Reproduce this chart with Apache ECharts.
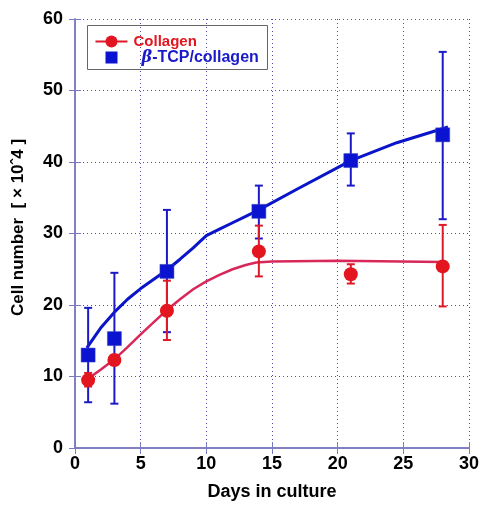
<!DOCTYPE html>
<html>
<head>
<meta charset="utf-8">
<script src="https://cdn.jsdelivr.net/npm/echarts@6/dist/echarts.min.js"></script>
<style>html,body{margin:0;padding:0;background:#fff;}#c{width:482px;height:506px;}</style>
</head>
<body>
<div id="c"></div>
<script>
// Measured points (day, mean) and error bar ranges
var days = [1, 3, 7, 14, 21, 28];
var collagenMean = [9.5, 12.3, 19.2, 27.5, 24.3, 25.4];
var collagenLow  = [8.6, 11.6, 15.1, 24.0, 23.0, 19.8];
var collagenHigh = [10.5, 13.0, 23.4, 31.1, 25.7, 31.2];
var tcpMean = [13.0, 15.3, 24.7, 33.1, 40.2, 43.8];
var tcpLow  = [6.4, 6.2, 16.2, 29.3, 36.7, 32.0];
var tcpHigh = [19.6, 24.5, 33.3, 36.7, 44.0, 55.4];
// Fitted curves
var collagenCurveX = [1, 2, 3, 4, 5, 6, 7, 8, 9, 10, 11, 12, 13, 13.8, 15, 20, 28];
var collagenCurveY = [9.7, 11.0, 12.4, 14.1, 15.9, 17.6, 19.3, 20.8, 22.2, 23.3, 24.2, 25.0, 25.6, 25.95, 26.1, 26.2, 26.0];
var tcpCurveX = [0.9, 2, 3, 4, 5, 6, 7, 8, 9, 10, 11, 12, 13, 14, 17, 21, 24.5, 28.4];
var tcpCurveY = [14.0, 16.9, 19.0, 20.8, 22.3, 23.6, 24.9, 26.4, 28.0, 29.7, 30.6, 31.5, 32.4, 33.3, 36.3, 40.2, 42.7, 44.9];
var xTicks = [0, 5, 10, 15, 20, 25, 30];
var yTicks = [0, 10, 20, 30, 40, 50, 60];

function zip(a, b) { return a.map(function (v, i) { return [v, b[i]]; }); }
function zip3(a, b, c) { return a.map(function (v, i) { return [v, b[i], c[i]]; }); }

var frameColor = '#7b7bc0';
var gridColor = '#4a4aa0';
var FONT = 'Arial, Liberation Sans, sans-serif';

function errRender(color) {
  return function (params, api) {
    var x = api.value(0);
    var lo = api.coord([x, api.value(1)]);
    var hi = api.coord([x, api.value(2)]);
    var w = 4;
    var st = { stroke: color, lineWidth: 2 };
    return {
      type: 'group',
      children: [
        { type: 'line', shape: { x1: lo[0], y1: lo[1], x2: hi[0], y2: hi[1] }, style: st },
        { type: 'line', shape: { x1: lo[0] - w, y1: lo[1], x2: lo[0] + w, y2: lo[1] }, style: st },
        { type: 'line', shape: { x1: hi[0] - w, y1: hi[1], x2: hi[0] + w, y2: hi[1] }, style: st }
      ]
    };
  };
}

var labelStyle = { color: '#000', fontWeight: 'bold', fontSize: 18, fontFamily: FONT };

var chart = echarts.init(document.getElementById('c'));
chart.setOption({
  animation: false,
  backgroundColor: '#fff',
  grid: { left: 75, right: 10, top: 19, bottom: 57 },
  xAxis: [{
    type: 'value', min: xTicks[0], max: xTicks[xTicks.length - 1], interval: 5, position: 'bottom',
    axisLine: { show: true, lineStyle: { color: frameColor, width: 1.5 } },
    axisTick: { show: true, inside: true, length: 6, lineStyle: { color: frameColor } },
    axisLabel: Object.assign({ margin: 7 }, labelStyle),
    splitLine: { show: true, lineStyle: { color: gridColor, type: [1, 3], width: 1 } },
    name: 'Days in culture', nameLocation: 'middle', nameGap: 35,
    nameTextStyle: { color: '#000', fontWeight: 'bold', fontSize: 18, fontFamily: FONT }
  }, {
    type: 'value', min: xTicks[0], max: xTicks[xTicks.length - 1], interval: 5, position: 'top',
    axisLine: { show: true, lineStyle: { color: frameColor, width: 1.5 } },
    axisTick: { show: true, inside: true, length: 6, lineStyle: { color: frameColor } },
    axisLabel: { show: false }, splitLine: { show: false }
  }],
  yAxis: [{
    type: 'value', min: yTicks[0], max: yTicks[yTicks.length - 1], interval: 10, position: 'left',
    axisLine: { show: true, lineStyle: { color: frameColor, width: 1.5 } },
    axisTick: { show: true, inside: true, length: 6, lineStyle: { color: frameColor } },
    axisLabel: Object.assign({ margin: 12 }, labelStyle),
    splitLine: { show: true, lineStyle: { color: gridColor, type: [1, 3], width: 1 } },
    name: 'Cell number  [ × 10ˆ4 ]', nameLocation: 'middle', nameGap: 48, nameRotate: 90,
    nameTextStyle: { color: '#000', fontWeight: 'bold', fontSize: 17, fontFamily: FONT, padding: [0, 0, 0, 12] }
  }, {
    type: 'value', min: yTicks[0], max: yTicks[yTicks.length - 1], interval: 10, position: 'right',
    axisLine: { show: true, lineStyle: { color: frameColor, width: 1.5 } },
    axisTick: { show: true, inside: true, length: 6, lineStyle: { color: frameColor } },
    axisLabel: { show: false }, splitLine: { show: false }
  }],
  series: [
    { type: 'line', data: zip(collagenCurveX, collagenCurveY), smooth: false, symbol: 'none',
      lineStyle: { color: '#d8285a', width: 2.5, join: 'round' }, z: 2 },
    { type: 'line', data: zip(tcpCurveX, tcpCurveY), smooth: false, symbol: 'none',
      lineStyle: { color: '#0a14c8', width: 3, join: 'round' }, z: 2 },
    { type: 'custom', data: zip3(days, tcpLow, tcpHigh), renderItem: errRender('#1a1ac8'), z: 3 },
    { type: 'custom', data: zip3(days, collagenLow, collagenHigh), renderItem: errRender('#dd1a2a'), z: 3 },
    { type: 'scatter', data: zip(days, tcpMean), symbol: 'rect', symbolSize: 14,
      itemStyle: { color: '#0a14d0', borderColor: '#3a40c0', borderWidth: 0.5, opacity: 1 }, z: 4 },
    { type: 'scatter', data: zip(days, collagenMean), symbol: 'circle', symbolSize: 14,
      itemStyle: { color: '#e3151f', opacity: 1 }, z: 5 }
  ],
  graphic: [{
    type: 'group', left: 87, top: 25, z: 100,
    children: [
      { type: 'rect', shape: { x: 0, y: 0, width: 180, height: 44 }, style: { fill: '#fff', stroke: '#666', lineWidth: 1 } },
      { type: 'line', shape: { x1: 8, y1: 16, x2: 40, y2: 16 }, style: { stroke: '#dd1a2a', lineWidth: 2 } },
      { type: 'circle', shape: { cx: 24, cy: 16, r: 6 }, style: { fill: '#e3151f' } },
      { type: 'text', x: 46, y: 16, style: { text: 'Collagen', fill: '#e3151f', fontWeight: 'bold', fontSize: 15, fontFamily: FONT, verticalAlign: 'middle' } },
      { type: 'rect', shape: { x: 18, y: 26, width: 12, height: 12 }, style: { fill: '#0a14d0' } },
      { type: 'text', x: 54, y: 32, style: {
          text: '{b|β}{t|-TCP/collagen}',
          verticalAlign: 'middle',
          rich: {
            b: { fill: '#1a1ac8', fontStyle: 'italic', fontWeight: 'bold', fontSize: 16, fontFamily: 'DejaVu Serif, serif' },
            t: { fill: '#1a1ac8', fontWeight: 'bold', fontSize: 16, fontFamily: FONT }
          } } }
    ]
  }]
});
</script>
</body>
</html>
